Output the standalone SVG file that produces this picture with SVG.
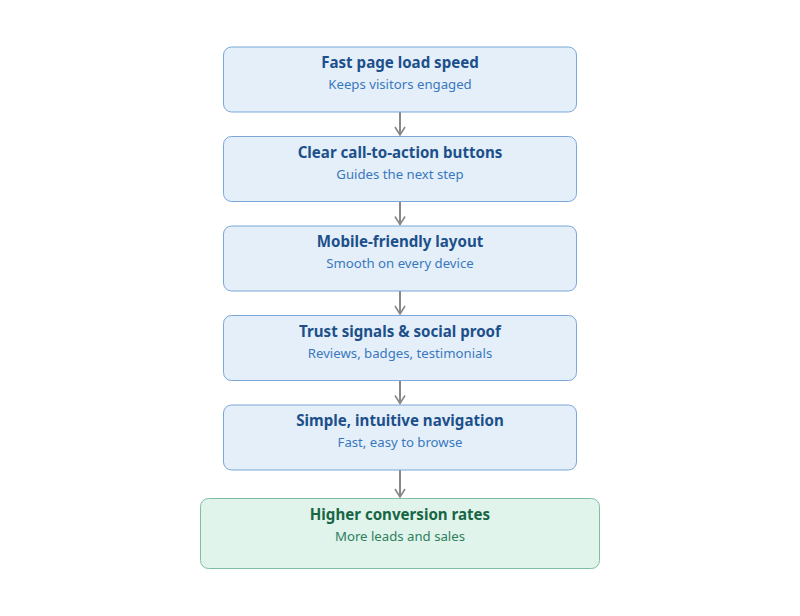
<svg xmlns="http://www.w3.org/2000/svg" width="800" height="616" viewBox="0 0 800 616">
<style>
.box{fill:#e4effa;stroke:#7ba7d9;stroke-width:1}
.gbox{fill:#e1f4ec;stroke:#7fbea3;stroke-width:1}
.t{font-family:"Noto Sans","Open Sans",sans-serif;font-weight:bold;font-size:15.1px;fill:#1d4f8a;text-anchor:middle}
.s{font-family:"Noto Sans","Open Sans",sans-serif;font-size:13.2px;fill:#3a78bd;text-anchor:middle}
.gt{fill:#176644}
.gs{fill:#2e7f5c}
.c{stroke:#888;stroke-width:2;fill:none}
</style>
<defs>
<marker id="ah" viewBox="0 0 12 12" refX="10" refY="6" markerWidth="12" markerHeight="12" markerUnits="userSpaceOnUse" orient="auto">
<path d="M2,1 L10,6 L2,11" fill="none" stroke="#888" stroke-width="1.6"/>
</marker>
</defs>
<g id="connectors">
<line class="c" x1="400" y1="112" x2="400" y2="135" marker-end="url(#ah)"/>
<line class="c" x1="400" y1="201.5" x2="400" y2="224.5" marker-end="url(#ah)"/>
<line class="c" x1="400" y1="291" x2="400" y2="314" marker-end="url(#ah)"/>
<line class="c" x1="400" y1="380.5" x2="400" y2="403.5" marker-end="url(#ah)"/>
<line class="c" x1="400" y1="470" x2="400" y2="497" marker-end="url(#ah)"/>
</g>
<g id="n1">
<rect class="box" x="223.5" y="47" width="353" height="65" rx="8"/>
<text class="t" x="400" y="68">Fast page load speed</text>
<text class="s" x="400" y="89">Keeps visitors engaged</text>
</g>
<g id="n2">
<rect class="box" x="223.5" y="136.5" width="353" height="65" rx="8"/>
<text class="t" x="400" y="157.5">Clear call-to-action buttons</text>
<text class="s" x="400" y="178.5">Guides the next step</text>
</g>
<g id="n3">
<rect class="box" x="223.5" y="226" width="353" height="65" rx="8"/>
<text class="t" x="400" y="247">Mobile-friendly layout</text>
<text class="s" x="400" y="268">Smooth on every device</text>
</g>
<g id="n4">
<rect class="box" x="223.5" y="315.5" width="353" height="65" rx="8"/>
<text class="t" x="400" y="336.5">Trust signals &amp; social proof</text>
<text class="s" x="400" y="357.5">Reviews, badges, testimonials</text>
</g>
<g id="n5">
<rect class="box" x="223.5" y="405" width="353" height="65" rx="8"/>
<text class="t" x="400" y="426">Simple, intuitive navigation</text>
<text class="s" x="400" y="447">Fast, easy to browse</text>
</g>
<g id="n6">
<rect class="gbox" x="200.5" y="498.5" width="399" height="70" rx="8"/>
<text class="t gt" x="400" y="519.5">Higher conversion rates</text>
<text class="s gs" x="400" y="540.5">More leads and sales</text>
</g>
</svg>
